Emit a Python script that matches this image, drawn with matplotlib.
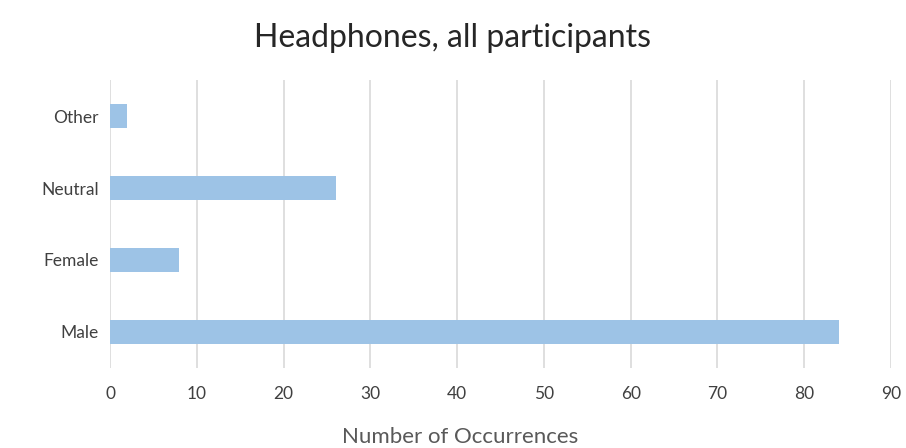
import matplotlib.pyplot as plt
import numpy as np

# occurrences per voice category
categories = ['Male', 'Female', 'Neutral', 'Other']
counts = [84, 8, 26, 2]
xticks = [0, 10, 20, 30, 40, 50, 60, 70, 80, 90]

plt.rcParams['font.family'] = ['Lato', 'DejaVu Sans']

fig = plt.figure(figsize=(9.06, 4.48), dpi=100)
ax = fig.add_axes([110/906, 1 - 368/448, 781/906, 288/448])

y = np.arange(len(categories))
ax.barh(y, counts, height=0.33, color='#9DC3E6', zorder=3)

ax.set_xlim(0, 90)
ax.set_ylim(-0.5, len(categories) - 0.5)
ax.set_xticks(xticks)
ax.set_yticks(y)
ax.set_yticklabels(categories)
ax.grid(axis='x', color='#D9D9D9', linewidth=1.2, zorder=0)
for s in ax.spines.values():
    s.set_visible(False)
ax.tick_params(length=0, labelsize=12.5, colors='#404040', pad=8)
ax.tick_params(axis='x', pad=13)

# axis title sits centred under the whole chart area, not just the plot
fig.text(460/906, 1 - 437/448, 'Number of Occurrences', fontsize=16,
         color='#595959', ha='center', va='center')
fig.suptitle('Headphones, all participants', fontsize=23, color='#262626',
             y=1 - 38/448, va='center')

fig.savefig('out.png', dpi=100)
